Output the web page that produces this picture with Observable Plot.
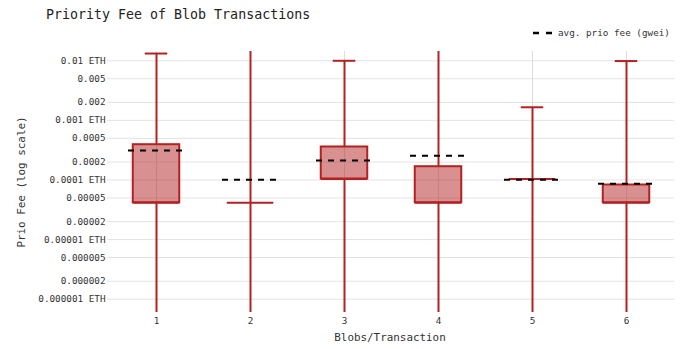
<!DOCTYPE html>
<html>
<head>
<meta charset="utf-8">
<script src="https://cdn.jsdelivr.net/npm/d3@7"></script>
<script src="https://cdn.jsdelivr.net/npm/@observablehq/plot@0.6"></script>
<style>
  html, body { margin: 0; padding: 0; background: #fff; }
  #wrap { position: relative; width: 689px; height: 349px; font-family: "DejaVu Sans Mono", monospace; }
  #chart { position: absolute; left: 0; top: 0; }
  .t { position: absolute; white-space: nowrap; }
  #title { left: 46px; top: 7px; font-size: 13.3px; color: #222; }
  #xlabel { left: 390px; top: 331px; transform: translateX(-50%); font-size: 10.9px; color: #333; }
  #ylabel { left: 21px; top: 182px; transform: translate(-50%, -50%) rotate(-90deg); font-size: 10.9px; color: #333; }
  #legend { left: 532px; top: 27px; font-size: 9.3px; color: #333; display: flex; align-items: center; }
  #legend svg { margin-right: 5px; }
</style>
</head>
<body>
<div id="wrap">
  <div id="chart"></div>
  <div class="t" id="title">Priority Fee of Blob Transactions</div>
  <div class="t" id="xlabel">Blobs/Transaction</div>
  <div class="t" id="ylabel">Prio Fee (log scale)</div>
  <div class="t" id="legend"><svg width="21" height="6"><line x1="1" x2="21" y1="3" y2="3" stroke="#000" stroke-width="2.5" stroke-dasharray="6,7"/></svg>avg. prio fee (gwei)</div>
</div>
<script>
// Data (ETH)
const blobs      = [1, 2, 3, 4, 5, 6];
const lowWhisker = [1e-9, 1e-9, 1e-9, 1e-9, 1e-9, 1e-9];      // extend below the visible range
const q1         = [4.15e-5, 4.15e-5, 1.04e-4, 4.15e-5, 1.04e-4, 4.15e-5];
const median     = [4.15e-5, 4.15e-5, 1.04e-4, 4.15e-5, 1.04e-4, 4.15e-5];
const q3         = [3.91e-4, 4.15e-5, 3.58e-4, 1.67e-4, 1.04e-4, 8.24e-5];
const highWhisker= [0.01324, 0.03, 0.0100, 0.03, 0.00166, 0.0099];
const meanFee    = [3.14e-4, 1.01e-4, 2.13e-4, 2.56e-4, 1.01e-4, 8.67e-5];

const yTicks  = [1e-6, 2e-6, 5e-6, 1e-5, 2e-5, 5e-5, 1e-4, 2e-4, 5e-4, 1e-3, 2e-3, 5e-3, 1e-2];
const yLabels = ["0.000001 ETH", "0.000002", "0.000005", "0.00001 ETH", "0.00002", "0.00005",
                 "0.0001 ETH", "0.0002", "0.0005", "0.001 ETH", "0.002", "0.005", "0.01 ETH"];

const rows = blobs.map((b, i) => ({
  b, lo: lowWhisker[i], q1: q1[i], med: median[i], q3: q3[i], hi: highWhisker[i], mean: meanFee[i]
}));
const tickRows = yTicks.map((v, i) => ({ v, label: yLabels[i] }));

const red = "#b22222";
const W = 689, H = 349, mL = 107, mR = 15, mT = 51, mB = 37;
const band = (W - mL - mR) / blobs.length;
const boxW = 47, capW = 23, meanW = 56.5;

const chart = Plot.plot({
  width: W, height: H,
  marginLeft: mL, marginRight: mR, marginTop: mT, marginBottom: mB,
  style: { fontFamily: "DejaVu Sans Mono, monospace", background: "#fff" },
  x: { type: "band", domain: blobs, padding: 0, label: null, axis: null },
  y: { type: "log", domain: [5.98e-7, 0.01432], label: null, axis: null },
  marks: [
    Plot.gridY(yTicks, { stroke: "#e3e3e3", strokeOpacity: 1, strokeWidth: 1 }),
    Plot.gridX(blobs, { stroke: "#dcdcdc", strokeOpacity: 1, strokeWidth: 1 }),
    Plot.text(tickRows, { y: "v", text: "label", frameAnchor: "left", textAnchor: "end", dx: -2,
       fontSize: 9.3, fill: "#333" }),
    Plot.axisX({ tickSize: 0, tickPadding: 5, fontSize: 9.3, fill: "#333", label: null }),
    // whiskers
    Plot.ruleX(rows, { x: "b", y1: "q3", y2: "hi", stroke: red, strokeWidth: 2, clip: true }),
    Plot.ruleX(rows, { x: "b", y1: "lo", y2: "q1", stroke: red, strokeWidth: 2, clip: true }),
    Plot.tickY(rows, { x: "b", y: "hi", stroke: red, strokeWidth: 2, clip: true,
       insetLeft: (band - capW) / 2, insetRight: (band - capW) / 2 }),
    // boxes
    Plot.barY(rows, { x: "b", y1: "q1", y2: "q3", fill: red, fillOpacity: 0.5,
       stroke: red, strokeWidth: 2, insetLeft: (band - boxW) / 2, insetRight: (band - boxW) / 2 }),
    Plot.tickY(rows, { x: "b", y: "med", stroke: red, strokeWidth: 2,
       insetLeft: (band - boxW) / 2, insetRight: (band - boxW) / 2 }),
    // mean
    Plot.tickY(rows, { x: "b", y: "mean", stroke: "#000", strokeWidth: 2, strokeDasharray: "6,6",
       insetLeft: (band - meanW) / 2, insetRight: (band - meanW) / 2 })
  ]
});
document.getElementById("chart").appendChild(chart);
</script>
</body>
</html>
